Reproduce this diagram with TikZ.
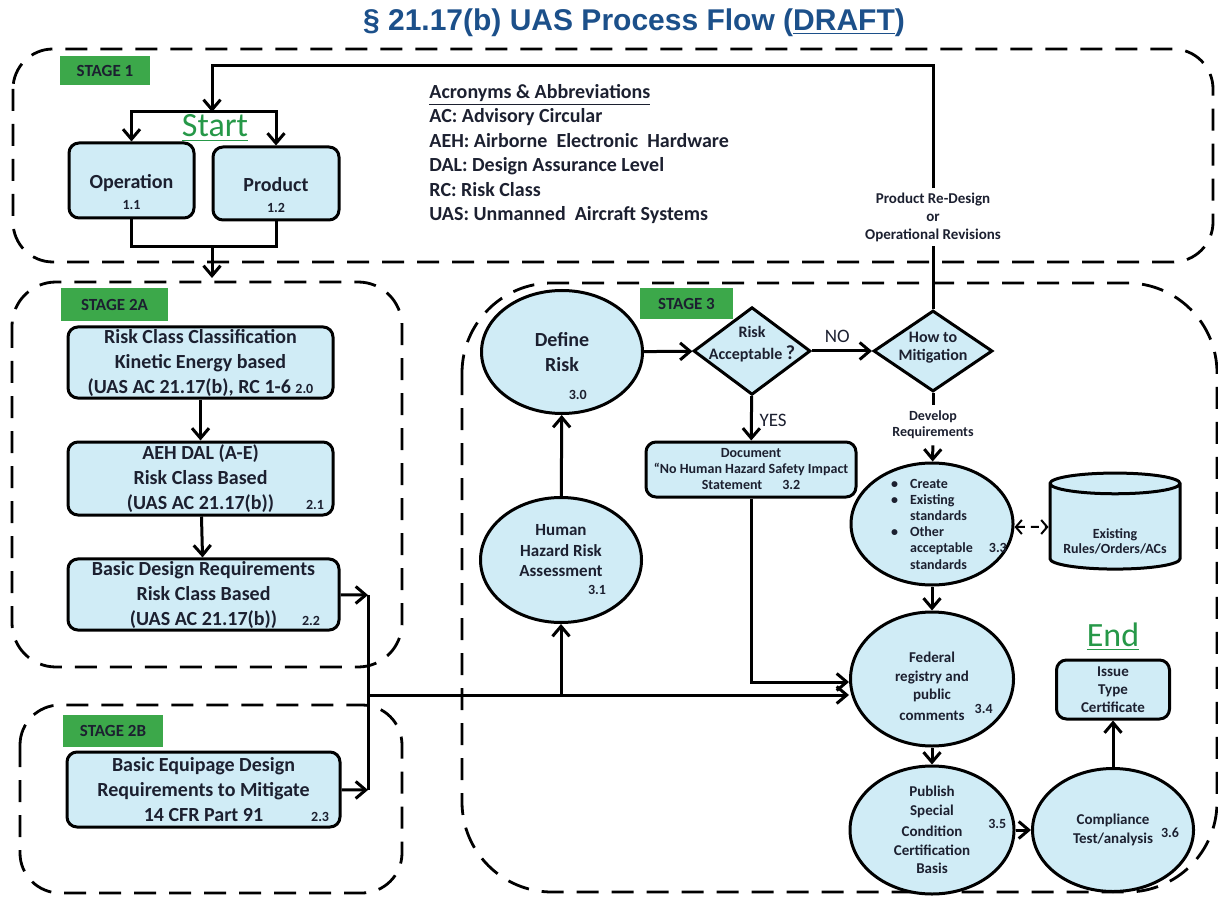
\documentclass[tikz,border=0pt]{standalone}
\usepackage{fontspec}
\setmainfont{Carlito}
\newfontfamily\titlefont{Liberation Sans}
\usetikzlibrary{shapes.geometric,arrows.meta}
\newcommand\fsz[2]{\fontsize{#1}{#2}\selectfont}
\definecolor{boxfill}{RGB}{208,236,246}
\definecolor{stagegreen}{RGB}{60,168,74}
\definecolor{startgreen}{RGB}{38,152,72}
\definecolor{titleblue}{RGB}{28,80,138}
\definecolor{ink}{RGB}{28,32,48}
\tikzset{
    flow/.style={line width=1.5pt},
    arr/.style={flow, -{Straight Barb[length=5pt,width=8.5pt]}},
    dbl/.style={line width=1pt, dash pattern=on 4pt off 3pt, {Straight Barb[length=3pt,width=7pt]}-{Straight Barb[length=3pt,width=7pt]}},
    stagebox/.style={line width=1.4pt, dash pattern=on 11pt off 6.5pt},
    stagetag/.style={fill=stagegreen, text=ink, font=\fsz{8.5}{10}\bfseries, inner sep=0pt},
    pbox/.style={rectangle, rounded corners=5pt, draw, fill=boxfill, line width=1.5pt, text=ink, align=center, inner sep=1pt, font=\fsz{10}{12.5}\bfseries},
    pell/.style={ellipse, draw, fill=boxfill, line width=1.5pt, text=ink, align=center, inner sep=-10pt, font=\fsz{7.5}{9.2}\bfseries},
    pdia/.style={diamond, draw, fill=boxfill, line width=1.5pt, text=ink, align=center, inner sep=-6pt, font=\fsz{8}{9}\bfseries},
    lbl/.style={text=ink, align=center, font=\fsz{7.5}{9}\bfseries},
    yn/.style={text=ink, font=\fsz{9.5}{11}},
    bigword/.style={text=startgreen, font=\fsz{17}{19}, inner sep=1pt},
}

\begin{document}
\begin{tikzpicture}[x=0.5pt, y=-0.5pt]
    \useasboundingbox (0,0) rectangle (1218,897);
    \node[text=titleblue, font=\titlefont\bfseries\fsz{15}{17}] (title) at (634,23) {\S~21.17(b) UAS Process Flow (\underline{DRAFT})};

    \draw[stagebox, rounded corners=20pt] (13,49) rectangle (1213,262);
    \draw[stagebox, rounded corners=22pt] (12,282) rectangle (402,667);
    \draw[stagebox, rounded corners=20pt] (20,705) rectangle (402,893);
    \draw[stagebox, rounded corners=45pt] (462,283) rectangle (1217,892);

    \begin{scope}[every node/.style={stagetag}]
      \node[minimum width=45pt, minimum height=14.5pt] (st1) at (105,71) {STAGE 1};
      \node[minimum width=53.5pt, minimum height=16.5pt] (st2a) at (114.5,304.5) {STAGE 2A};
      \node[minimum width=50pt, minimum height=16pt] (st2b) at (113,731) {STAGE 2B};
      \node[minimum width=46.5pt, minimum height=15.5pt] (st3) at (686.5,303.5) {STAGE 3};
    \end{scope}

    \node[bigword] (start) at (215,128) {\underline{Start}};
    \node[bigword] (endw) at (1113,637) {\underline{End}};

    \node[anchor=north west, align=left, text=ink, font=\fsz{10}{12.25}\bfseries, inner sep=0pt] (acr) at (429,84)
      {\underline{Acronyms \& Abbreviations}\\AC: Advisory Circular\\AEH: Airborne~ Electronic~ Hardware\\DAL: Design Assurance Level\\RC: Risk Class\\UAS: Unmanned~ Aircraft Systems};

    \begin{scope}[every node/.style={pbox}]
      \node[minimum width=62.5pt, minimum height=37.5pt] (op) at (131.5,180.5) {\mbox{}\\[6.5pt]Operation\\[-2pt]{\fsz{7}{8}1.1}};
      \node[minimum width=63pt, minimum height=36.5pt] (pr) at (276,183.5) {\mbox{}\\[6.5pt]Product\\[-2pt]{\fsz{7}{8}1.2}};
      \node[minimum width=132.5pt, minimum height=35.5pt] (rc) at (200.5,362.5) {Risk Class Classification\\Kinetic Energy based\\ (UAS AC 21.17(b), RC 1-6 {\fsz{7}{8}2.0}};
      \node[minimum width=132.5pt, minimum height=36.5pt] (dal) at (200.5,478.5) {AEH DAL (A-E)\\Risk Class Based\\(UAS AC 21.17(b))\rlap{\hspace{16pt}\fsz{7}{8}2.1}};
      \node[minimum width=135.5pt, minimum height=35.5pt] (bdr) at (203.5,594.5) {Basic Design Requirements\\Risk Class Based\\(UAS AC 21.17(b))\rlap{\hspace{12.5pt}\fsz{7}{8}2.2}};
      \node[minimum width=136.5pt, minimum height=37.5pt] (beq) at (203.5,789.5) {Basic Equipage Design\\Requirements to Mitigate\\14 CFR Part 91\rlap{\hspace{24pt}\fsz{7}{8}2.3}};
      \node[minimum width=105pt, minimum height=27.5pt, font=\fsz{7}{8}\bfseries] (doc) at (751,469.5) {Document\\``No Human Hazard Safety Impact\\Statement\hspace{10pt}3.2};
      \node[minimum width=56.5pt, minimum height=29.5pt, font=\fsz{7.5}{9}\bfseries] (iss) at (1113,689.5) {Issue\\Type\\Certificate};
    \end{scope}

    \begin{scope}[every node/.style={pell}]
      \node[minimum width=80.5pt, minimum height=61.5pt, font=\fsz{10}{12.5}\bfseries] (def) at (562,352) {Define\\Risk\rlap{\hspace{-5pt}\raisebox{-14pt}[0pt][0pt]{\fsz{7}{8}3.0}}};
      \node[minimum width=80.5pt, minimum height=62.5pt, font=\fsz{8.5}{10.25}\bfseries] (hh) at (561,560) {Human\\Hazard Risk\\Assessment\\[-1.25pt]\hspace*{36pt}{\fsz{7}{8}3.1}};
      \node[minimum width=81pt, minimum height=61pt, align=left, font=\fsz{7}{8.1}\bfseries] (cre) at (932,524)
        {\makebox[9.5pt][l]{\textbullet}Create\\\makebox[9.5pt][l]{\textbullet}Existing\\\hspace*{9.5pt}standards\\\makebox[9.5pt][l]{\textbullet}Other\\\hspace*{9.5pt}acceptable\rlap{\hspace{8pt}3.3}\\\hspace*{9.5pt}standards};
      \node[minimum width=81.5pt, minimum height=67pt] (fed) at (932,679) {\mbox{}\\[3.3pt]Federal\\registry and\\public\\comments\rlap{\hspace{5pt}\raisebox{3.5pt}{\fsz{7}{8}3.4}}};
      \node[minimum width=82pt, minimum height=64pt] (pub) at (932,830) {Publish\\Special\\Condition\rlap{\hspace{13pt}\raisebox{4pt}{\fsz{7}{8}3.5}}\\Certification\\Basis};
      \node[minimum width=80.5pt, minimum height=61.5pt] (comp) at (1113,830) {Compliance\\Test/analysis\rlap{\hspace{4pt}\raisebox{3pt}{\fsz{7}{8}3.6}}};
    \end{scope}

    \begin{scope}[every node/.style={pdia}]
      \node[minimum width=58.5pt, minimum height=41.5pt] (acc) at (752,351) {Risk\\[2pt]Acceptable {\fsz{10}{9}?}\\[-1pt]\mbox{}};
      \node[minimum width=59.5pt, minimum height=40.5pt] (mit) at (933,351) {How to\\Mitigation\\[-4.5pt]\mbox{}};
    \end{scope}

    \node[cylinder, shape border rotate=90, aspect=0.2, draw, fill=boxfill, line width=1.5pt, minimum width=65pt, minimum height=48pt, text=ink, align=center, font=\fsz{7}{7.5}\bfseries, inner sep=0pt] (db) at (1115,527) {\mbox{}\\[12pt]Existing\\Rules/Orders/ACs};

    \node[lbl, inner sep=2pt] (rd) at (933,217) {Product Re-Design\\or\\Operational Revisions};
    \node[lbl, font=\fsz{7}{8}\bfseries, inner sep=3pt] (dev) at (933,425) {Develop\\Requirements};

    \coordinate (top) at (212,66);
    \coordinate (sp) at (212,112);
    \coordinate (mg) at (212,247);
    \coordinate (s2in) at (212,278);
    \coordinate (j1) at (368,595);
    \coordinate (j2) at (368,790);
    \coordinate (j3) at (368,695);

    \draw[flow] (mit) -- (rd);
    \draw[arr] (rd) |- (top) -- (sp);
    \draw[arr] (sp) -| (op);
    \draw[arr] (sp) -| (pr);
    \draw[flow] (op) |- (mg) -| (pr);
    \draw[arr] (mg) -- (s2in);
    \draw[arr] (bdr) -- (j1);
    \draw[arr] (beq) -- (j2);
    \draw[flow] (j1) -- (j2);
    \draw[arr] (j3) -- (j3 -| fed.west);
    \draw[arr] (hh.south |- j3) -- (hh);
    \draw[arr] (doc) |- ([yshift=-1.5pt]fed.west);
    \draw[flow] (mit) -- (dev);
    \draw[arr] (dev) -- (cre);
    \draw[dbl] (db.west -| cre.east) -- (db);

    \begin{scope}[every edge/.style={draw, arr}]
      \path (rc) edge (dal)
            (dal) edge (bdr)
            (hh) edge (def)
            (def) edge (acc)
            (acc) edge node[yn, above, pos=0.42] (no) {NO} (mit)
            (acc) edge node[yn, right, pos=0.55] (yes) {YES} (doc)
            (cre) edge (fed)
            (fed) edge (pub)
            (pub) edge (comp)
            (comp) edge (iss);
    \end{scope}
\end{tikzpicture}
\end{document}
